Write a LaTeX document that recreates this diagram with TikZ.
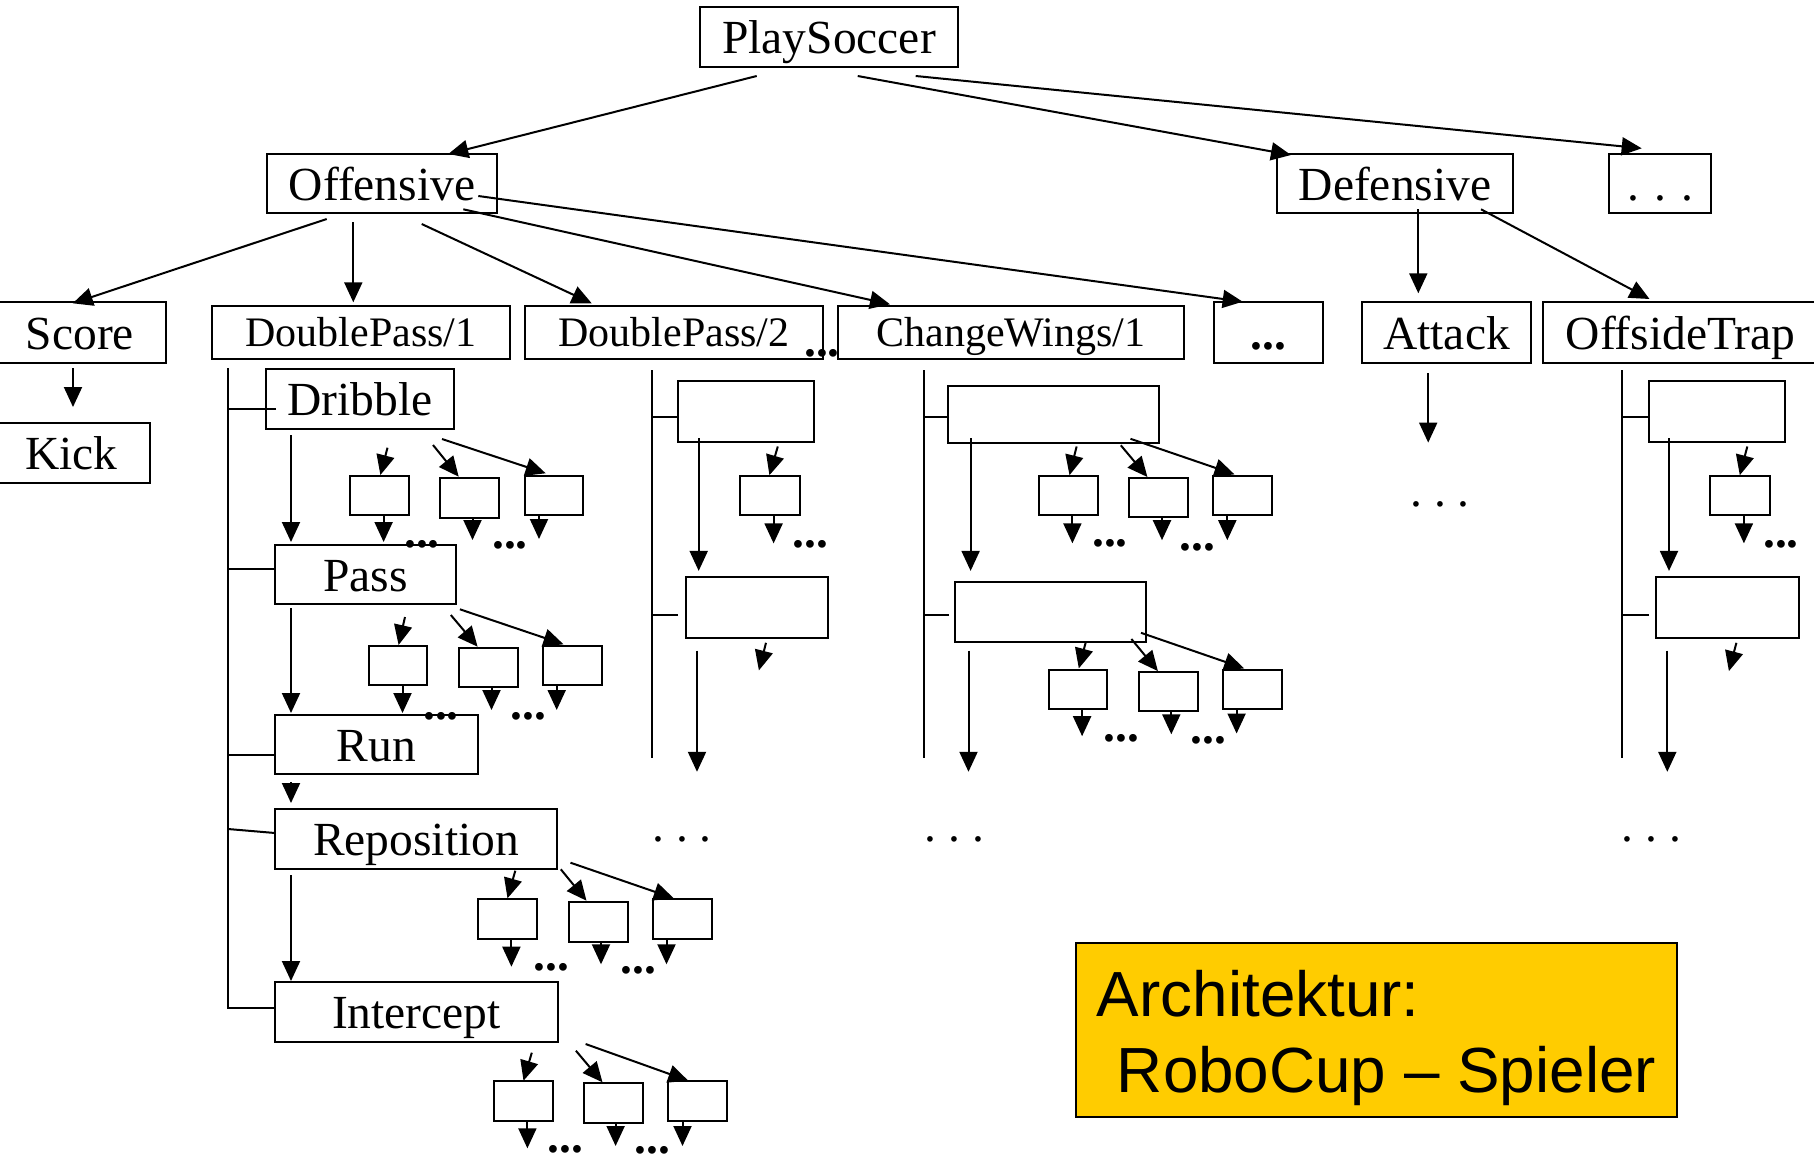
\documentclass[tikz,border=0pt]{standalone}
\usepackage{fontspec}
\setmainfont{Liberation Serif}
\newfontfamily\archfont{Liberation Sans}
\usetikzlibrary{arrows.meta}
\definecolor{archgold}{HTML}{FFCC00}
\newcommand\fbig{\fontsize{23.75pt}{28pt}\selectfont}
\newcommand\fsmall{\fontsize{21pt}{25pt}\selectfont}
\begin{document}
\begin{tikzpicture}[x=0.5pt,y=-0.5pt,
  box/.style 2 args={draw, line width=1pt, inner sep=0pt, outer sep=0pt,
    anchor=north west, minimum width={#1*0.5pt}, minimum height={#2*0.5pt}},
  big/.style={font=\fbig, text height=18.5pt, text depth=2pt},
  sml/.style={font=\fsmall, text height=16.2pt, text depth=2pt},
  ln/.style={line width=1pt},
  ar/.style={line width=1pt, -{Triangle[length=10pt,width=9pt]}},
  bdots/.style={font=\fbig\bfseries, inner sep=0pt},
  sdots/.style={font=\fbig, inner sep=0pt},
]
\useasboundingbox (0,0) rectangle (1814,1157);
\clip (0,0) rectangle (1814,1157);

% ---------- upper levels ----------
\node[box={258}{60},big] (ps) at (700,7) {PlaySoccer};
\node[box={230}{59},big] (off) at (267,154) {Offensive};
\node[box={236}{59},big] (def) at (1277,154) {Defensive};
\node[box={102}{59},big] (more1) at (1609,154) {.\hspace{0.32em}.\hspace{0.32em}.};

\node[box={172}{61},big] (score) at (-6,302) {Score};
\node[box={298}{53},sml] (dp1) at (212,306) {DoublePass/1};
\node[box={298}{53},sml] (dp2) at (525,306) {DoublePass/2};
\node[box={346}{53},sml] (cw1) at (838,306) {ChangeWings/1};
\node[box={109}{61},big,font=\fbig\bfseries] (more2) at (1214,302) {...};
\node[box={169}{61},big] (attack) at (1362,302) {Attack};
\node[box={275}{61},big] (trap) at (1543,302) {OffsideTrap};
\node[box={157}{60},big] (kick) at (-7,423) {Kick};
\node[bdots] (gapdots) at (822,353.3) {...};

\draw[ar] ([shift={(56.7,9)}]ps.south west) -- ([shift={(181.3,0)}]off.north west);
\draw[ar] ([shift={(157.7,9)}]ps.south west) -- ([shift={(14,1)}]def.north west);
\draw[ar] ([shift={(215.7,9)}]ps.south west) -- ([shift={(32.7,-5.7)}]more1.north west);
\draw[ar] ([shift={(59.7,6)}]off.south west) -- ([shift={(78.7,1.3)}]score.north west);
\draw[ar] ([shift={(86.3,9.3)}]off.south west) -- ([shift={(141.3,-3.7)}]dp1.north west);
\draw[ar] ([shift={(154.7,11)}]off.south west) -- ([shift={(66.7,-2.7)}]dp2.north west);
\draw[ar] ([shift={(196.3,-3.7)}]off.south west) -- ([shift={(52,-1.7)}]cw1.north west);
\draw[ar] ([shift={(211.3,-17)}]off.south west) -- ([shift={(28.7,-0.3)}]more2.north west);
\draw[ar] ([shift={(141.3,-3.7)}]def.south west) -- ([shift={(56.3,-8.7)}]attack.north west);
\draw[ar] ([shift={(204,-3.7)}]def.south west) -- ([shift={(106.5,-3)}]trap.north west);
\draw[ar] ([shift={(79,5)}]score.south west) -- ([shift={(80,-16)}]kick.north west);

% ---------- DoublePass/1 ----------
\node[box={188}{60},big] (dribble) at (266,369) {Dribble};
\node[box={181}{59},big] (pass) at (275,545) {Pass};
\node[box={203}{59},big] (run) at (275,715) {Run};
\node[box={282}{60},big] (repos) at (275,809) {Reposition};
\node[box={283}{60},big] (icept) at (275,982) {Intercept};

\draw[ln] ([shift={(16,9)}]dp1.south west) |- ([shift={(0,-4)}]icept.west);
\draw[ln] ([shift={(10,40)}]dribble.north west) -- ++(-48,0);
\draw[ln] ([shift={(0,24)}]pass.north west) -- ++(-47,0);
\draw[ln] ([shift={(0,40)}]run.north west) -- ++(-47,0);
\draw[ln] ([shift={(0,24)}]repos.north west) -- ++(-47,-4);
\draw[ar] ([shift={(25,6)}]dribble.south west) -- ([shift={(16,-3)}]pass.north west);
\draw[ar] ([shift={(16,4)}]pass.south west) -- ([shift={(16,-2)}]run.north west);
\draw[ar] ([shift={(16,8)}]run.south west) -- ([shift={(16,-6)}]repos.north west);
\draw[ar] ([shift={(16,6)}]repos.south west) -- ([shift={(16,-1)}]icept.north west);

% Dribble sub-behaviours
\node[box={59}{39}] (dr1) at (350,476) {};
\node[box={59}{40}] (dr2) at (440,478) {};
\node[box={58}{39}] (dr3) at (525,476) {};
\draw[ar] ([shift={(121.5,18.7)}]dribble.south west) -- ([shift={(30.4,-1)}]dr1.north west);
\draw[ar] ([shift={(167,16)}]dribble.south west) -- ([shift={(18.7,-1.3)}]dr2.north west);
\draw[ar] ([shift={(176,10)}]dribble.south west) -- ([shift={(20.7,-2.7)}]dr3.north west);
\draw[ar] ([shift={(33.6,0)}]dr1.south west) -- ++(0,27);
\draw[ar] ([shift={(32.5,0)}]dr2.south west) -- ++(0,22);
\draw[ar] ([shift={(14,0)}]dr3.south west) -- ++(0,24);
\node[bdots] (drd1) at (422,544) {...};
\node[bdots] (drd2) at (510,545) {...};

% Pass sub-behaviours
\node[box={58}{39}] (pa1) at (369,646) {};
\node[box={59}{39}] (pa2) at (459,648) {};
\node[box={59}{39}] (pa3) at (543,646) {};
\draw[ar] ([shift={(130,13)}]pass.south west) -- ([shift={(29.6,-1)}]pa1.north west);
\draw[ar] ([shift={(175.8,11)}]pass.south west) -- ([shift={(18.6,-1.3)}]pa2.north west);
\draw[ar] ([shift={(184.9,5.3)}]pass.south west) -- ([shift={(20.5,-1.7)}]pa3.north west);
\draw[ar] ([shift={(33.5,0)}]pa1.south west) -- ++(0,28);
\draw[ar] ([shift={(32.5,0)}]pa2.south west) -- ++(0,23);
\draw[ar] ([shift={(13.7,0)}]pa3.south west) -- ++(0,25);
\node[bdots] (pad1) at (441,716) {...};
\node[bdots] (pad2) at (528.5,716) {...};

% Reposition sub-behaviours
\node[box={59}{40}] (re1) at (478,899) {};
\node[box={59}{40}] (re2) at (569,902) {};
\node[box={59}{40}] (re3) at (653,899) {};
\draw[ar] ([shift={(240.3,1.7)}]repos.south west) -- ([shift={(29.5,-0.7)}]re1.north west);
\draw[ar] ([shift={(285.8,0.3)}]repos.south west) -- ([shift={(17.5,-1.3)}]re2.north west);
\draw[ar] ([shift={(295.5,-6.3)}]repos.south west) -- ([shift={(20.8,-0.7)}]re3.north west);
\draw[ar] ([shift={(33.4,0)}]re1.south west) -- ++(0,27.7);
\draw[ar] ([shift={(32,0)}]re2.south west) -- ++(0,22.3);
\draw[ar] ([shift={(13.5,0)}]re3.south west) -- ++(0,25.3);
\node[bdots] (red1) at (551.8,967.3) {...};
\node[bdots] (red2) at (638.5,970) {...};

% Intercept sub-behaviours
\node[box={59}{40}] (in1) at (494,1081) {};
\node[box={59}{40}] (in2) at (584,1083) {};
\node[box={59}{40}] (in3) at (668,1081) {};
\draw[ar] ([shift={(256.8,10.7)}]icept.south west) -- ([shift={(29.5,-0.3)}]in1.north west);
\draw[ar] ([shift={(300.9,8.7)}]icept.south west) -- ([shift={(18.5,-0.7)}]in2.north west);
\draw[ar] ([shift={(310.6,2)}]icept.south west) -- ([shift={(20.3,-0.3)}]in3.north west);
\draw[ar] ([shift={(33.4,0)}]in1.south west) -- ++(0,27.3);
\draw[ar] ([shift={(31.6,0)}]in2.south west) -- ++(0,23);
\draw[ar] ([shift={(14.5,0)}]in3.south west) -- ++(0,25);
\node[bdots] (ind1) at (565.5,1149) {...};
\node[bdots] (ind2) at (652.8,1150) {...};

% ---------- DoublePass/2 ----------
\node[box={136}{61}] (dpa) at (678,381) {};
\node[box={142}{61}] (dpb) at (686,577) {};
\node[box={60}{39}] (dps) at (740,476) {};
\draw[ln] ([shift={(126.6,11)}]dp2.south west) -- ++(0,388.4);
\draw[ln] ([shift={(0,35.6)}]dpa.north west) -- ++(-26.4,0);
\draw[ln] ([shift={(-8,37.9)}]dpb.north west) -- ++(-26.4,0);
\draw[ar] ([shift={(20.7,-4)}]dpa.south west) -- ([shift={(12.7,-6.1)}]dpb.north west);
\draw[ar] ([shift={(99.8,4.5)}]dpa.south west) -- ([shift={(29.4,-0.8)}]dps.north west);
\draw[ar] ([shift={(33.6,0.4)}]dps.south west) -- ++(0,28);
\node[bdots] (dpd) at (810.5,544) {...};
\draw[ar] ([shift={(80,4.8)}]dpb.south west) -- ++(-7.1,27.6);
\draw[ar] ([shift={(11,12.5)}]dpb.south west) -- ++(0,121.3);
\node[sdots] (dpe) at (682,839.5) {.\ .\ .};

% ---------- ChangeWings/1 ----------
\node[box={211}{57}] (cwa) at (948,386) {};
\node[box={191}{60}] (cwb) at (955,582) {};
\draw[ln] ([shift={(85.9,11)}]cw1.south west) -- ++(0,388.4);
\draw[ln] ([shift={(1,30.6)}]cwa.north west) -- ++(-25.1,0);
\draw[ln] ([shift={(-6,32.9)}]cwb.north west) -- ++(-25.1,0);
\draw[ar] ([shift={(22.6,-5)}]cwa.south west) -- ([shift={(15.6,-11.1)}]cwb.north west);
\draw[ar] ([shift={(13.5,8.5)}]cwb.south west) -- ++(0,121.3);
\node[sdots] (cwe) at (954.6,839.5) {.\ .\ .};

\node[box={59}{39}] (ca1) at (1039,476) {};
\node[box={59}{39}] (ca2) at (1129,478) {};
\node[box={59}{39}] (ca3) at (1213,476) {};
\draw[ar] ([shift={(128.6,3.5)}]cwa.south west) -- ([shift={(30.5,-0.8)}]ca1.north west);
\draw[ar] ([shift={(172.8,2.3)}]cwa.south west) -- ([shift={(18.4,-1)}]ca2.north west);
\draw[ar] ([shift={(182.5,-4.2)}]cwa.south west) -- ([shift={(21.5,-1.6)}]ca3.north west);
\draw[ar] ([shift={(33.4,0.4)}]ca1.south west) -- ++(0,27.9);
\draw[ar] ([shift={(33,0.3)}]ca2.south west) -- ++(0,22.9);
\draw[ar] ([shift={(14.3,0.4)}]ca3.south west) -- ++(0,24.8);
\node[bdots] (cad1) at (1110,543.3) {...};
\node[bdots] (cad2) at (1197.6,547) {...};

\node[box={58}{39}] (cb1) at (1049,670) {};
\node[box={59}{39}] (cb2) at (1139,672) {};
\node[box={59}{39}] (cb3) at (1223,670) {};
\draw[ar] ([shift={(130.9,-0.3)}]cwb.south west) -- ([shift={(29.8,-1.6)}]cb1.north west);
\draw[ar] ([shift={(176.4,-3)}]cwb.south west) -- ([shift={(18.9,-0.9)}]cb2.north west);
\draw[ar] ([shift={(186,-9.2)}]cwb.south west) -- ([shift={(21.2,-1.6)}]cb3.north west);
\draw[ar] ([shift={(33.1,-0.4)}]cb1.south west) -- ++(0,27.6);
\draw[ar] ([shift={(32.3,0.3)}]cb2.south west) -- ++(0,23);
\draw[ar] ([shift={(13.6,-0.4)}]cb3.south west) -- ++(0,24.9);
\node[bdots] (cbd1) at (1121.4,738.5) {...};
\node[bdots] (cbd2) at (1208.6,740.4) {...};

% ---------- Attack ----------
\draw[ar] ([shift={(66.2,10)}]attack.south west) -- ++(0,69.6);
\node[sdots] (ate) at (1440,504.6) {.\ .\ .};

% ---------- OffsideTrap ----------
\node[box={136}{61}] (ota) at (1649,381) {};
\node[box={143}{61}] (otb) at (1656,577) {};
\node[box={60}{39}] (ots) at (1710,476) {};
\draw[ln] ([shift={(78.6,7)}]trap.south west) -- ++(0,388.4);
\draw[ln] ([shift={(0,35.6)}]ota.north west) -- ++(-27.4,0);
\draw[ln] ([shift={(-7,37.9)}]otb.north west) -- ++(-27.4,0);
\draw[ar] ([shift={(20,-4)}]ota.south west) -- ([shift={(13,-6.1)}]otb.north west);
\draw[ar] ([shift={(98.3,4.5)}]ota.south west) -- ([shift={(29.8,-0.8)}]ots.north west);
\draw[ar] ([shift={(33.9,0.4)}]ots.south west) -- ++(0,27.9);
\node[bdots] (otd) at (1781,544) {...};
\draw[ar] ([shift={(80.4,4.8)}]otb.south west) -- ++(-7.5,28.3);
\draw[ar] ([shift={(11.3,12.5)}]otb.south west) -- ++(0,121.3);
\node[sdots] (ote) at (1651.2,839.5) {.\ .\ .};

% ---------- title panel ----------
\node[draw, line width=0.8pt, fill=archgold, anchor=north west, inner sep=0pt,
  outer sep=0pt, minimum width={601*0.5pt}, minimum height={174*0.5pt},
  align=left, font=\archfont\fontsize{31.9pt}{38.3pt}\selectfont] (arch)
  at (1076,943) {\rule{0pt}{31pt}Architektur:\\\hspace*{10pt}RoboCup – Spieler};
\end{tikzpicture}
\end{document}
